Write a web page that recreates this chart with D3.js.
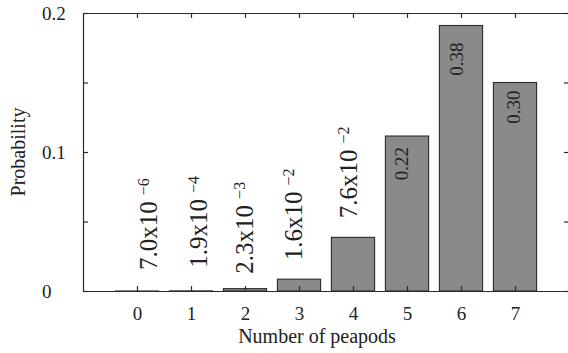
<!DOCTYPE html>
<html>
<head>
<meta charset="utf-8">
<script src="https://cdn.jsdelivr.net/npm/d3@7"></script>
<style>
  body { margin: 0; background: #fff; }
  svg { display: block; }
</style>
</head>
<body>
<svg id="chart" width="568" height="353"></svg>
<script>
// data
const categories = [0, 1, 2, 3, 4, 5, 6, 7];
const probabilities = [0.0000035, 0.000095, 0.0017, 0.0085, 0.0386, 0.1115, 0.191, 0.150];
const labelText = ["7.0x10", "1.9x10", "2.3x10", "1.6x10", "7.6x10", "0.22", "0.38", "0.30"];
const labelExp = ["\u22126", "\u22124", "\u22123", "\u22122", "\u22122", null, null, null];
const yTicks = [0, 0.05, 0.1, 0.15, 0.2];
const yTickLabels = ["0", "", "0.1", "", "0.2"];

// hand placed annotation nudges (dx from bar centre, gap from bar top)
const labelDx = [20, 16, 8, 3, 4, 1, 2, 5];
const labelGap = [21, 23, 15, 19, 19, 11, 17, 8];

const ink = "#2b2b2b";
const serif = "Liberation Serif";
const svg = d3.select("#chart").attr("font-family", serif);

const x = d3.scaleLinear().domain([-1, 8]).range([83, 569]);
const y = d3.scaleLinear().domain([0, 0.2]).range([291, 13]);
const barWidth = (x(1) - x(0)) * 0.8;

// bars
svg.selectAll(".bar")
    .data(categories)
    .join("rect")
    .attr("class", "bar")
    .attr("x", d => x(d) - barWidth / 2)
    .attr("y", (d, i) => y(probabilities[i]))
    .attr("width", barWidth)
    .attr("height", (d, i) => y(0) - y(probabilities[i]))
    .attr("fill", "#8a8a8a")
    .attr("stroke", ink)
    .attr("stroke-width", 1.1);

// axes, ticks point inward
const styleAxis = g => {
    g.attr("font-family", serif);
    g.selectAll("path, line").attr("stroke", ink).attr("stroke-width", 1.2);
    g.selectAll("text").attr("fill", "#222").attr("font-family", serif);
};

svg.append("g")
    .attr("transform", `translate(0,${y(0)})`)
    .call(d3.axisBottom(x).tickValues(categories).tickSizeInner(-5).tickSizeOuter(0).tickPadding(16))
    .call(styleAxis)
    .call(g => g.selectAll("text").attr("font-size", 19));

svg.append("g")
    .attr("transform", `translate(0,${y(0.2)})`)
    .call(d3.axisTop(x).tickValues(categories).tickSizeInner(-5).tickSizeOuter(0).tickFormat(""))
    .call(styleAxis);

svg.append("g")
    .attr("transform", `translate(${x(-1)},0)`)
    .call(d3.axisLeft(y).tickValues(yTicks).tickSizeInner(-5).tickSizeOuter(0)
        .tickFormat((d, i) => yTickLabels[i]))
    .call(styleAxis)
    .call(g => g.selectAll("text")
        .attr("x", -41)
        .attr("text-anchor", "start")
        .attr("font-size", 19));

svg.append("g")
    .attr("transform", `translate(${x(8)},0)`)
    .call(d3.axisRight(y).tickValues(yTicks).tickSizeInner(-5).tickSizeOuter(0).tickFormat(""))
    .call(styleAxis);

// axis titles
svg.append("text")
    .attr("x", 317)
    .attr("y", 343)
    .attr("text-anchor", "middle")
    .attr("font-family", serif)
    .attr("font-size", 20)
    .attr("fill", "#222")
    .text("Number of peapods");

svg.append("text")
    .attr("transform", `translate(25,${y(0.1)}) rotate(-90)`)
    .attr("text-anchor", "middle")
    .attr("font-family", serif)
    .attr("font-size", 20)
    .attr("fill", "#222")
    .text("Probability");

// value annotations
categories.forEach((c, i) => {
    const outside = labelExp[i] !== null;
    const t = svg.append("text")
        .attr("font-family", serif)
        .attr("fill", "#222")
        .attr("text-anchor", outside ? "start" : "end")
        .attr("font-size", outside ? 25 : 19)
        .attr("transform", outside
            ? `translate(${x(c) + labelDx[i]},${y(probabilities[i]) - labelGap[i]}) rotate(-90)`
            : `translate(${x(c) + labelDx[i]},${y(probabilities[i]) + labelGap[i]}) rotate(-90)`);
    t.append("tspan").text(labelText[i]);
    if (outside) {
        t.append("tspan")
            .attr("font-size", 16)
            .attr("dx", 6)
            .attr("dy", -8)
            .text(labelExp[i]);
    }
});
</script>
</body>
</html>
